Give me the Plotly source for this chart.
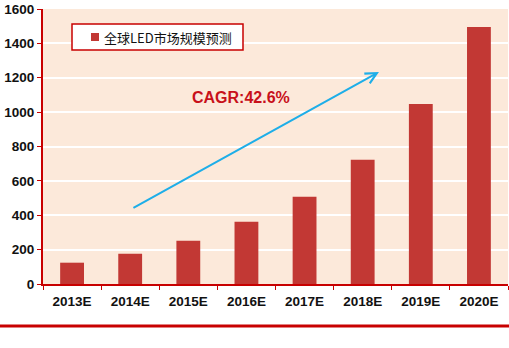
import plotly.graph_objects as go

years = ["2013E", "2014E", "2015E", "2016E", "2017E", "2018E", "2019E", "2020E"]
market = [124, 176, 251, 362, 507, 723, 1048, 1496]
series_name = "全球LED市场规模预测"
cagr_label = "CAGR:42.6%"
y_ticks = [0, 200, 400, 600, 800, 1000, 1200, 1400, 1600]

BAR_RED = "#C23834"
AXIS_RED = "#C80000"

# plot area in pixels: left 43, width 465, bottom 284, height 275
L, W, B, H = 43, 465, 284, 275


def px(x):
    return (x - L) / W


def py(y):
    return (B - y) / H


fig = go.Figure()
fig.add_trace(go.Bar(
    x=years, y=market, name=series_name,
    marker=dict(color=BAR_RED, line=dict(width=0)),
    width=0.41, showlegend=False,
))

# growth arrow and CAGR label
fig.add_annotation(
    x=5.28, y=1234, ax=1.03, ay=438,
    xref="x", yref="y", axref="x", ayref="y",
    text="", showarrow=True, arrowhead=5, arrowsize=1.1,
    arrowwidth=2, arrowcolor="#1EAEE8",
)
fig.add_annotation(
    x=2.91, y=1083, xref="x", yref="y", text=cagr_label, showarrow=False,
    font=dict(family="Arial, Liberation Sans", size=16, color="#C8101A", weight="bold"),
)

# legend box drawn by hand
fig.add_shape(type="rect", xref="paper", yref="paper",
              x0=px(72), x1=px(243), y0=py(50), y1=py(24),
              fillcolor="white", line=dict(color=AXIS_RED, width=1.5), layer="above")
fig.add_shape(type="rect", xref="paper", yref="paper",
              x0=px(91), x1=px(99), y0=py(41), y1=py(33),
              fillcolor=BAR_RED, line=dict(width=0), layer="above")
fig.add_annotation(
    x=px(102), y=py(37), xref="paper", yref="paper", xanchor="left", yanchor="middle",
    text=series_name, showarrow=False,
    font=dict(family="Noto Sans CJK SC", size=13, color="#111"),
)

# red rule under the chart
fig.add_shape(type="line", xref="paper", yref="paper",
              x0=px(0), x1=px(509), y0=py(326), y1=py(326),
              line=dict(color=AXIS_RED, width=3))

fig.update_layout(
    width=509, height=348,
    margin=dict(l=L, r=509 - L - W, t=B - H, b=348 - B),
    paper_bgcolor="white", plot_bgcolor="#FCE9DA",
    showlegend=False,
)
fig.update_xaxes(
    type="category", showgrid=False, showline=True, linecolor=AXIS_RED, linewidth=2,
    ticks="outside", tickson="boundaries", ticklen=4, tickcolor=AXIS_RED,
    ticklabelstandoff=4,
    tickfont=dict(family="Arial, Liberation Sans", size=13.5, color="#111", weight="bold"),
)
fig.update_yaxes(
    range=[0, 1600], tickvals=y_ticks, showgrid=True, gridcolor="white", gridwidth=1.5,
    showline=True, linecolor=AXIS_RED, linewidth=2, zeroline=False,
    ticks="outside", ticklen=4, tickcolor=AXIS_RED,
    tickfont=dict(family="Arial, Liberation Sans", size=13.5, color="#111", weight="bold"),
)

fig.write_html("out.html")
